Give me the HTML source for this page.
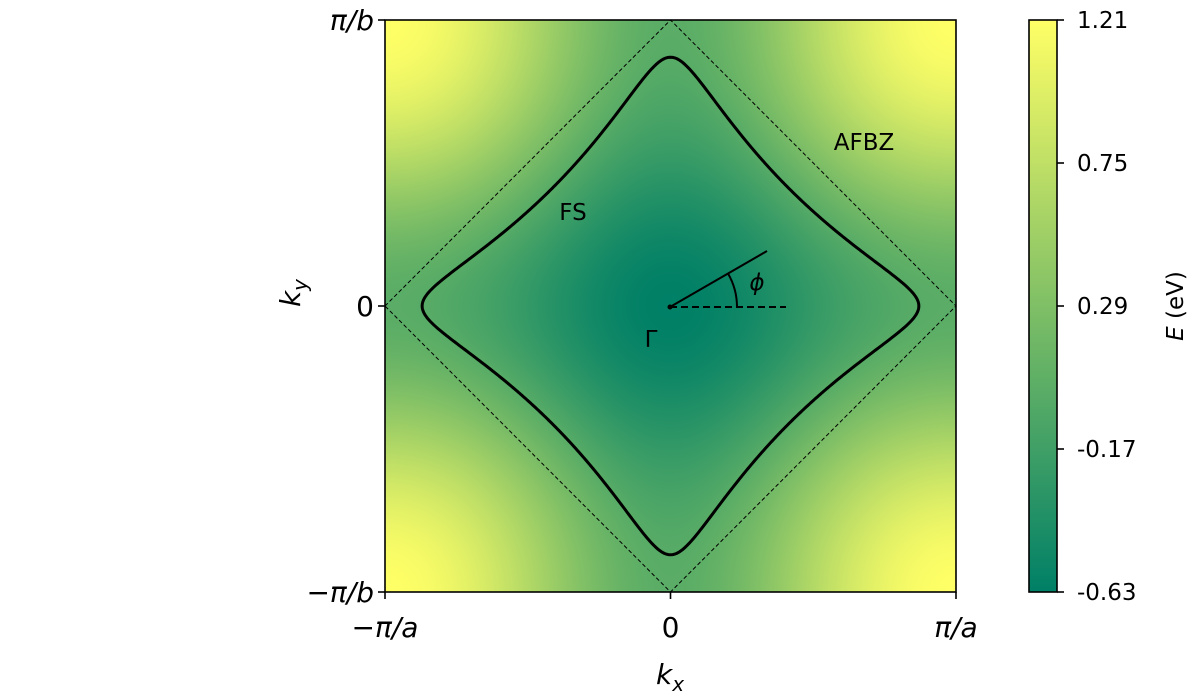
<!DOCTYPE html>
<html><head><meta charset="utf-8"><style>
html,body{margin:0;padding:0;background:#fff;width:1200px;height:700px;overflow:hidden}
#wrap{position:relative;width:1200px;height:700px}
canvas{position:absolute}
svg{position:absolute;left:0;top:0}
text{font-family:"DejaVu Sans","Liberation Sans",sans-serif;fill:#000}
</style></head><body>
<div id="wrap">
<canvas id="hm" width="571" height="572" style="left:385px;top:20px"></canvas>
<canvas id="cb" width="28" height="572" style="left:1029px;top:20px"></canvas>
<svg id="s" width="1200" height="700"></svg>
</div>
<script>
// band parameters (eV): hopping t, next-neighbour t', third-neighbour t'', chemical potential mu
const hopping=[0.23];
const hoppingNN=[-0.0338];
const hoppingNNN=[0.0113];
const chemPot=[-0.20];
const colorRange=[-0.63,1.21];
const cbTicks=["1.21","0.75","0.29","-0.17","-0.63"];
const xTicks=["\u2212\u03c0/a","0","\u03c0/a"];
const yTicks=["\u2212\u03c0/b","0","\u03c0/b"];

const L=385,R=956,T=20,B=592;
const xs=kx=>L+(kx/Math.PI+1)/2*(R-L);
const ys=ky=>B-(ky/Math.PI+1)/2*(B-T);
function E(kx,ky){const t=hopping[0],tp=hoppingNN[0],tpp=hoppingNNN[0],mu=chemPot[0];
 return -2*t*(Math.cos(kx)+Math.cos(ky))-4*tp*Math.cos(kx)*Math.cos(ky)-2*tpp*(Math.cos(2*kx)+Math.cos(2*ky))-mu;}
function summer(v){v=Math.max(0,Math.min(1,v));return [Math.round(255*v),Math.round(255*(0.5+0.5*v)),Math.round(255*0.4)];}
const norm=e=>(e-colorRange[0])/(colorRange[1]-colorRange[0]);

const hm=document.getElementById('hm'),c=hm.getContext('2d'),W=hm.width,H=hm.height;
const img=c.createImageData(W,H);
for(let j=0;j<H;j++)for(let i=0;i<W;i++){
 const kx=((i+0.5)/W*2-1)*Math.PI,ky=(1-(j+0.5)/H*2)*Math.PI;
 const col=summer(norm(E(kx,ky)));const p=(j*W+i)*4;
 img.data[p]=col[0];img.data[p+1]=col[1];img.data[p+2]=col[2];img.data[p+3]=255;}
c.putImageData(img,0,0);
const cb=document.getElementById('cb'),cc=cb.getContext('2d');
for(let j=0;j<cb.height;j++){const col=summer(1-j/(cb.height-1));cc.fillStyle=`rgb(${col})`;cc.fillRect(0,j,28,1);}

const S=document.getElementById('s'),NS='http://www.w3.org/2000/svg';
function el(tag,a,txt){const e=document.createElementNS(NS,tag);for(const k in a)e.setAttribute(k,a[k]);if(txt!=null)e.textContent=txt;S.appendChild(e);return e;}

let d='';
for(let n=0;n<=720;n++){const a=n/720*2*Math.PI;let lo=0;
 const ca=Math.cos(a),sa=Math.sin(a);
 let hi=Math.min(Math.PI/Math.max(Math.abs(ca),1e-9),Math.PI/Math.max(Math.abs(sa),1e-9));
 for(let k=0;k<50;k++){const m=(lo+hi)/2;if(E(m*ca,m*sa)<0)lo=m;else hi=m;}
 d+=(n?'L':'M')+xs(lo*ca).toFixed(2)+','+ys(lo*sa).toFixed(2);}
const fs=el('path',{d:d+'Z',fill:'none',stroke:'#000','stroke-width':3});


const az=el('path',{d:`M${xs(-Math.PI)},${ys(0)}L${xs(0)},${ys(Math.PI)}L${xs(Math.PI)},${ys(0)}L${xs(0)},${ys(-Math.PI)}Z`,fill:'none',stroke:'#000','stroke-width':1,'stroke-dasharray':'4,2.5'});



el('line',{x1:670,y1:307,x2:767,y2:251,stroke:'#000','stroke-width':2});
el('line',{x1:670,y1:307,x2:786,y2:307,stroke:'#000','stroke-width':2,'stroke-dasharray':'7,4'});
el('path',{d:'M737,307A67,67 0 0 0 728,273.5',fill:'none',stroke:'#000','stroke-width':2});
el('circle',{cx:670,cy:307,r:2.5,fill:'#000'});

const lbl=(x,y,t,name,extra)=>{const e=el('text',Object.assign({x,y,'font-size':23,'text-anchor':'middle'},extra||{}),t);return e;};
lbl(573,220,'FS','fs-label');
lbl(864,150,'AFBZ','afbz-label');
lbl(651,347,'\u0393','gamma-label');
lbl(757,290,'\u03d5','phi-label',{'font-style':'italic'});

const fr=el('rect',{x:L,y:T,width:R-L,height:B-T,fill:'none',stroke:'#000','stroke-width':1.6});

const tickPos=[-Math.PI,0,Math.PI];
tickPos.forEach((k,i)=>{
 el('line',{x1:xs(k),y1:B,x2:xs(k),y2:B+7,stroke:'#000','stroke-width':1.6});
 const tx=el('text',{x:xs(k),y:637,'font-size':28,'text-anchor':'middle','font-style':i===1?'normal':'italic'},xTicks[i]);
 
 el('line',{x1:L-7,y1:ys(k),x2:L,y2:ys(k),stroke:'#000','stroke-width':1.6});
 const ty=el('text',{x:L-11,y:ys(k)+10,'font-size':28,'text-anchor':'end','font-style':i===1?'normal':'italic'},yTicks[i]);
 
});
const xt=el('text',{x:670,y:684,'font-size':28,'text-anchor':'middle','font-style':'italic'});
xt.innerHTML='k<tspan dy="7" font-size="20">x</tspan>';

const yt=el('text',{x:0,y:0,'font-size':28,'text-anchor':'middle','font-style':'italic',transform:'translate(300,293) rotate(-90)'});
yt.innerHTML='k<tspan dy="7" font-size="20">y</tspan>';


const cf=el('rect',{x:1029,y:T,width:28,height:B-T,fill:'none',stroke:'#000','stroke-width':1.6});

cbTicks.forEach((t,i)=>{const y=T+i*(B-T)/(cbTicks.length-1);
 el('line',{x1:1057,y1:y,x2:1064,y2:y,stroke:'#000','stroke-width':1.6});
 const e=el('text',{x:1077,y:y+8,'font-size':23},t);
 });
const ct=el('text',{x:0,y:0,'font-size':23,'text-anchor':'middle',transform:'translate(1183,306) rotate(-90)'});
ct.innerHTML='<tspan font-style="italic">E</tspan> (eV)';

</script>
</body></html>
